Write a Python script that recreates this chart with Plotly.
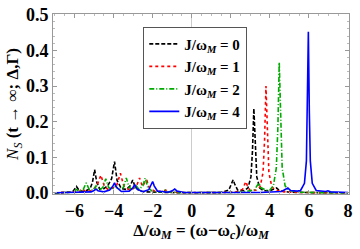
import plotly.graph_objects as go

# J/omega_M = 0 (black dashed)
x_j0 = [-7.0, -6.2, -6.05, -5.9, -5.75, -5.5, -5.2, -5.08, -4.97, -4.86, -4.7, -4.5, -4.3, -4.1, -3.95, -3.82,
        -3.6, -3.35, -3.15, -3.02, -2.9, -2.7, -2.4, -2.0, -1.0, 0.0, 1.5, 1.9, 2.05, 2.12, 2.2, 2.35, 2.68,
        2.88, 3.03, 3.11, 3.18, 3.25, 3.33, 3.48, 3.68, 4.0, 4.2, 4.34, 4.5, 5.0, 6.0, 8.0]
y_j0 = [0.0, 0.002, 0.006, 0.018, 0.006, 0.004, 0.012, 0.03, 0.065, 0.03, 0.01, 0.012, 0.02, 0.04, 0.088, 0.035,
        0.012, 0.01, 0.02, 0.036, 0.018, 0.006, 0.003, 0.002, 0.001, 0.0005, 0.001, 0.008, 0.025, 0.037, 0.025, 0.008, 0.006,
        0.014, 0.045, 0.118, 0.237, 0.118, 0.045, 0.014, 0.006, 0.006, 0.01, 0.014, 0.006, 0.002, 0.001, 0.0005]

# J/omega_M = 1 (red dotted)
x_j1 = [-7.0, -6.0, -5.75, -5.6, -5.45, -5.1, -4.85, -4.65, -4.48, -4.3, -4.1, -3.85, -3.65, -3.48, -3.25, -3.0,
        -2.82, -2.67, -2.52, -2.4, -2.3, -2.18, -1.9, -1.5, -1.33, -1.2, -0.5, 1.5, 2.3, 2.6, 2.7, 2.77, 2.85, 3.0,
        3.3, 3.5, 3.65, 3.73, 3.8, 3.87, 3.95, 4.1, 4.3, 4.6, 5.0, 6.0, 8.0]
y_j1 = [0.0, 0.002, 0.004, 0.012, 0.004, 0.006, 0.02, 0.05, 0.02, 0.01, 0.012, 0.02, 0.055, 0.02, 0.01, 0.012,
        0.02, 0.042, 0.018, 0.03, 0.036, 0.015, 0.005, 0.004, 0.008, 0.003, 0.001, 0.001, 0.003, 0.01, 0.025, 0.032, 0.02, 0.006,
        0.008, 0.017, 0.057, 0.15, 0.30, 0.15, 0.057, 0.017, 0.008, 0.004, 0.002, 0.001, 0.0005]

# J/omega_M = 2 (green dash-dot)
x_j2 = [-7.0, -6.1, -5.9, -5.75, -5.55, -5.4, -5.25, -5.05, -4.9, -4.75, -4.55, -4.4, -4.25, -4.05, -3.9, -3.75,
        -3.5, -3.35, -3.2, -3.0, -2.85, -2.7, -2.5, -2.38, -2.25, -2.0, -1.55, -1.35, -1.2, -0.5, 2.0, 2.5, 3.2,
        3.35, 3.44, 3.53, 3.8, 3.98, 4.18, 4.33, 4.41, 4.48, 4.55, 4.63, 4.78, 4.98, 5.3, 5.6, 6.5, 8.0]
y_j2 = [0.0, 0.002, 0.01, 0.004, 0.01, 0.028, 0.01, 0.008, 0.02, 0.008, 0.015, 0.04, 0.015, 0.01, 0.02, 0.01,
        0.015, 0.042, 0.015, 0.01, 0.02, 0.01, 0.02, 0.042, 0.015, 0.004, 0.003, 0.008, 0.003, 0.001, 0.001, 0.002, 0.008,
        0.02, 0.028, 0.015, 0.008, 0.007, 0.02, 0.07, 0.183, 0.366, 0.183, 0.07, 0.02, 0.007, 0.004, 0.002, 0.001, 0.0005]

# J/omega_M = 4 (blue solid)
x_j4 = [-7.0, -5.5, -5.15, -5.0, -4.9, -4.8, -4.5, -4.2, -4.05, -3.95, -3.85, -3.6, -3.2, -3.03, -2.92, -2.82,
        -2.5, -2.2, -2.08, -2.0, -1.92, -1.75, -1.2, -1.0, -0.87, -0.75, -0.4, 3.5, 4.6, 4.8, 4.92, 5.05, 5.4,
        5.57, 5.77, 5.87, 5.92, 5.97, 6.02, 6.07, 6.17, 6.37, 6.85, 6.97, 7.1, 8.0]
y_j4 = [0.0005, 0.001, 0.003, 0.007, 0.011, 0.006, 0.003, 0.008, 0.018, 0.028, 0.016, 0.004, 0.005, 0.013, 0.023, 0.012,
        0.003, 0.009, 0.022, 0.032, 0.02, 0.005, 0.002, 0.006, 0.011, 0.005, 0.001, 0.001, 0.004, 0.009, 0.014, 0.007, 0.005,
        0.007, 0.027, 0.09, 0.226, 0.452, 0.226, 0.09, 0.027, 0.007, 0.004, 0.006, 0.003, 0.001]

names = ["<b>J/ω<sub><i>M</i></sub> = 0</b>", "<b>J/ω<sub><i>M</i></sub> = 1</b>",
         "<b>J/ω<sub><i>M</i></sub> = 2</b>", "<b>J/ω<sub><i>M</i></sub> = 4</b>"]
colors = ["#000000", "#ff0000", "#00aa00", "#0000ff"]
dashes = ["4px,2px", "dot", "5px,2px,1px,2px", "solid"]

x_ticks = [-6, -4, -2, 0, 2, 4, 6, 8]
x_tick_text = ["<b>−6</b>", "<b>−4</b>", "<b>−2</b>", "<b>0</b>", "<b>2</b>", "<b>4</b>", "<b>6</b>", "<b>8</b>"]
y_ticks = [0.0, 0.1, 0.2, 0.3, 0.4, 0.5]
y_tick_text = ["<b>0.0</b>", "<b>0.1</b>", "<b>0.2</b>", "<b>0.3</b>", "<b>0.4</b>", "<b>0.5</b>"]

fig = go.Figure()
for xs, ys, nm, c, d in zip([x_j0, x_j1, x_j2, x_j4], [y_j0, y_j1, y_j2, y_j4], names, colors, dashes):
    fig.add_trace(go.Scatter(x=xs, y=ys, mode="lines", name=nm,
                             line=dict(color=c, dash=d, width=1.6)))

font = "Liberation Serif"
fig.update_layout(
    width=360, height=249,
    margin=dict(l=53, r=11, t=14, b=55, autoexpand=False),
    paper_bgcolor="white", plot_bgcolor="white",
    font=dict(family=font, color="black", size=14),
    showlegend=True,
    legend=dict(x=0.305, y=0.93, xanchor="left", yanchor="top",
                bordercolor="#555555", borderwidth=1, bgcolor="white",
                font=dict(family=font, size=15), tracegroupgap=0, itemwidth=30),
    xaxis=dict(range=[-7.1, 8.05], tickvals=x_ticks, ticktext=x_tick_text, ticks="inside", ticklen=4,
               tickcolor="#999999", automargin=False,
               showline=True, linecolor="#999999", mirror="ticks", showgrid=False,
               zeroline=True, zerolinecolor="#cccccc", zerolinewidth=1,
               minor=dict(dtick=0.5, ticks="inside", ticklen=2, tickcolor="#bbbbbb"),
               tickfont=dict(family=font, size=18, color="black"),
               title=dict(text="<b>Δ/ω<sub><i>M</i></sub> = (ω−ω<sub><i>c</i></sub>)/ω<sub><i>M</i></sub></b>",
                          font=dict(family=font, size=17), standoff=0)),
    yaxis=dict(range=[-0.003, 0.502], tickvals=y_ticks, ticktext=y_tick_text, ticks="inside", ticklen=4,
               tickcolor="#999999", showline=True, linecolor="#999999", mirror="ticks", showgrid=False,
               zeroline=False, automargin=False,
               minor=dict(dtick=0.02, ticks="inside", ticklen=2, tickcolor="#bbbbbb"),
               tickfont=dict(family=font, size=18, color="black"),
               title=dict(text="<i>N<sub>S</sub></i> <b>(t → ∞; Δ,Γ)</b>",
                          font=dict(family=font, size=17), standoff=2)),
)

fig.write_html("out.html", config={"displayModeBar": False},
               post_script="document.body.style.margin='0px';")
